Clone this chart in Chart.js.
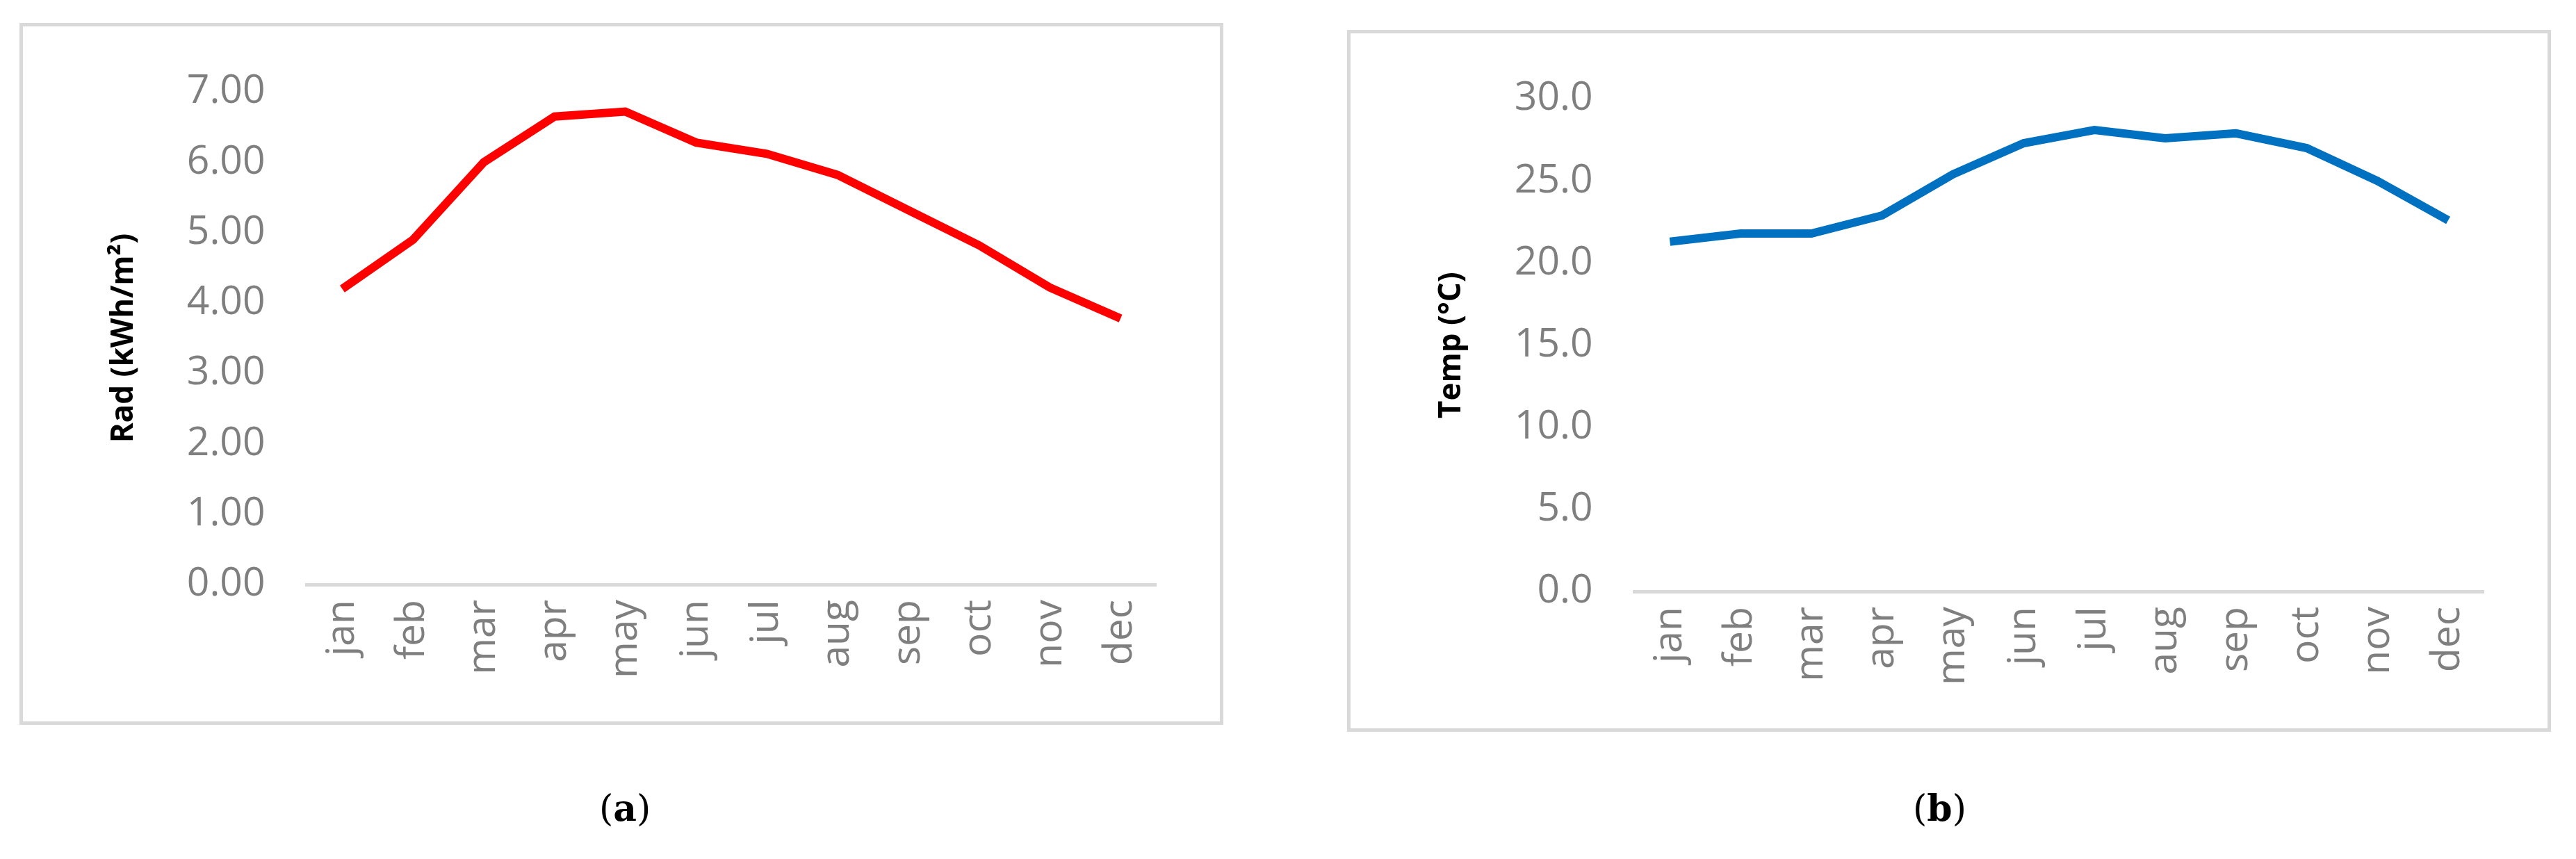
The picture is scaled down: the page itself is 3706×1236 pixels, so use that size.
<!DOCTYPE html>
<html>
<head>
<meta charset="utf-8">
<script src="https://cdn.jsdelivr.net/npm/chart.js@4"></script>
<style>
  body { margin: 0; width: 3706px; height: 1236px; background: #fff; position: relative; overflow: hidden; }
  .box { position: absolute; border: 5px solid #d9d9d9; box-sizing: border-box; background: #fff; }
  .cap { position: absolute; font-family: "DejaVu Serif", "Liberation Serif", serif; font-size: 52px; color: #000; }
</style>
</head>
<body>
<div class="box" style="left:28px;top:33px;width:1732px;height:1010px;"><canvas id="radChart"></canvas></div>
<div class="box" style="left:1938px;top:43px;width:1732px;height:1010px;"><canvas id="tempChart"></canvas></div>
<div class="cap" style="left:862px;top:1132px;">(<b>a</b>)</div>
<div class="cap" style="left:2752px;top:1132px;">(<b>b</b>)</div>
<script>
// months
const months = ['jan', 'feb', 'mar', 'apr', 'may', 'jun', 'jul', 'aug', 'sep', 'oct', 'nov', 'dec'];
// radiation kWh/m2
const radValues = [4.20, 4.90, 6.00, 6.65, 6.72, 6.28, 6.12, 5.82, 5.32, 4.82, 4.22, 3.78];
// temperature °C
const tempValues = [21.3, 21.8, 21.8, 22.9, 25.4, 27.3, 28.1, 27.6, 27.9, 27.0, 25.0, 22.6];

function makeChart(id, values, color, title, max, step, decimals, left) {
    const ctx = document.getElementById(id).getContext('2d');
    return new Chart(ctx, {
        type: 'line',
        data: {
            labels: months,
            datasets: [{
                data: values,
                borderColor: color,
                borderWidth: 12,
                pointRadius: 0,
                tension: 0,
                fill: false
            }]
        },
        options: {
            responsive: true,
            maintainAspectRatio: false,
            animation: false,
            layout: { padding: { left: left, right: 92, top: 75, bottom: 40 } },
            plugins: { legend: { display: false }, tooltip: { enabled: false } },
            scales: {
                x: {
                    offset: true,
                    grid: { display: false, drawTicks: false },
                    border: { color: '#d9d9d9', width: 5 },
                    ticks: { color: '#7f7f7f', font: { family: 'Open Sans', size: 57 }, maxRotation: 90, minRotation: 90, padding: 22 }
                },
                y: {
                    min: 0, max: max,
                    grid: { display: false, drawTicks: false },
                    border: { display: false },
                    title: { display: true, text: title, color: '#000', font: { family: 'Open Sans', size: 44, weight: 'bold' } },
                    ticks: { stepSize: step, color: '#7f7f7f', font: { family: 'Open Sans', size: 57 }, padding: 60,
                             callback: v => v.toFixed(decimals) }
                }
            }
        }
    });
}

makeChart('radChart', radValues, '#ff0000', 'Rad (kWh/m²)', 7, 1, 2, 115);
makeChart('tempChart', tempValues, '#0070c0', 'Temp (°C)', 30, 5, 1, 115);
</script>
</body>
</html>
